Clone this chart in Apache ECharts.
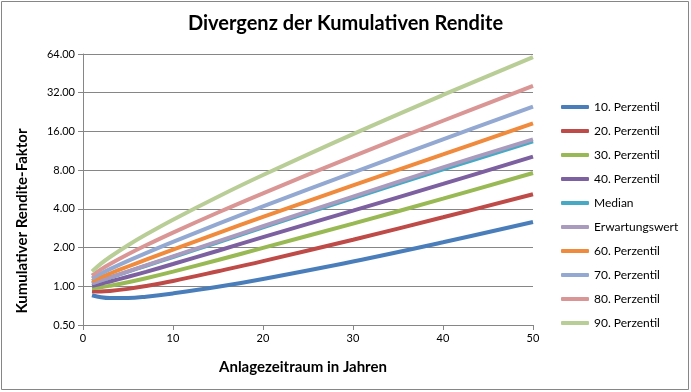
<!DOCTYPE html>
<html>
<head>
<meta charset="utf-8">
<script src="https://cdn.jsdelivr.net/npm/echarts@6/dist/echarts.min.js"></script>
<style>
html,body{margin:0;padding:0;background:#fff;}
#c{width:691px;height:392px;}
</style>
</head>
<body>
<div id="c"></div>
<script>
const years = [1, 2, 3, 5, 7, 10, 15, 20, 30, 40, 50];
const seriesNames = ['10. Perzentil','20. Perzentil','30. Perzentil','40. Perzentil','Median','Erwartungswert','60. Perzentil','70. Perzentil','80. Perzentil','90. Perzentil'];
const p10 = [0.851, 0.821, 0.809, 0.810, 0.830, 0.880, 0.990, 1.140, 1.560, 2.200, 3.16];
const p20 = [0.916, 0.911, 0.920, 0.955, 1.005, 1.100, 1.310, 1.570, 2.300, 3.440, 5.20];
const p30 = [0.966, 0.983, 1.010, 1.075, 1.155, 1.300, 1.600, 1.990, 3.070, 4.800, 7.60];
const p40 = [1.010, 1.047, 1.090, 1.185, 1.295, 1.490, 1.890, 2.410, 3.870, 6.250, 10.2];
const median = [1.053, 1.110, 1.170, 1.300, 1.445, 1.690, 2.200, 2.870, 4.850, 8.100, 13.4];
const erwartung = [1.054, 1.113, 1.175, 1.307, 1.455, 1.710, 2.235, 2.930, 4.980, 8.400, 13.9];
const p60 = [1.099, 1.178, 1.257, 1.425, 1.610, 1.930, 2.590, 3.460, 6.080, 10.60, 18.5];
const p70 = [1.149, 1.255, 1.359, 1.576, 1.812, 2.215, 3.056, 4.176, 7.666, 13.88, 24.92];
const p80 = [1.211, 1.352, 1.489, 1.773, 2.083, 2.616, 3.747, 5.285, 10.23, 19.37, 36.16];
const p90 = [1.303, 1.499, 1.690, 2.087, 2.527, 3.296, 4.972, 7.327, 15.26, 30.74, 60.6];
const xTicks = [0, 10, 20, 30, 40, 50];
const yTicks = [0.5, 1, 2, 4, 8, 16, 32, 64];
const colors = ['#4a7ebb','#be4b48','#98b954','#7d60a0','#46aac5','#a99bbd','#f08a3c','#93a9d2','#d99694','#b9cd96'];
const titleText = 'Divergenz der Kumulativen Rendite';
const xName = 'Anlagezeitraum in Jahren';
const yName = 'Kumulativer Rendite-Faktor';

const allData = [p10, p20, p30, p40, median, erwartung, p60, p70, p80, p90];

const chart = echarts.init(document.getElementById('c'), null, {renderer: 'canvas'});
const font = 'Lato, "Liberation Sans", sans-serif';
chart.setOption({
  animation: false,
  color: colors,
  textStyle: {fontFamily: font},
  title: {
    text: titleText,
    left: 'center', top: 9,
    textStyle: {fontFamily: font, fontSize: 20, fontWeight: 'bold', color: '#000'}
  },
  graphic: [
    {type: 'rect', shape: {x: 1.5, y: 1.5, width: 687, height: 388},
     style: {fill: 'none', stroke: '#868686', lineWidth: 1}, silent: true},
    {type: 'text', x: 22, y: 221, rotation: Math.PI / 2,
     style: {text: yName, fontFamily: font, fontSize: 15, fontWeight: 'bold', fill: '#000',
       textAlign: 'center', textVerticalAlign: 'middle'}},
    {type: 'text', x: 303, y: 367,
     style: {text: xName, fontFamily: font, fontSize: 15, fontWeight: 'bold', fill: '#000',
       textAlign: 'center', textVerticalAlign: 'middle'}}
  ],
  grid: {left: 83, right: 158, top: 54, bottom: 67},
  legend: {
    orient: 'vertical', left: 556, top: 96,
    icon: 'roundRect',
    itemWidth: 28, itemHeight: 4, itemGap: 12,
    textStyle: {fontFamily: font, fontSize: 12, color: '#000'},
    data: seriesNames
  },
  xAxis: {
    type: 'value', min: 0, max: 50, interval: 10,
    axisLine: {lineStyle: {color: '#868686'}},
    axisTick: {show: true, inside: false, length: 5, lineStyle: {color: '#868686'}},
    axisLabel: {fontFamily: font, fontSize: 11, color: '#000', margin: 8,
      formatter: v => xTicks.includes(v) ? String(v) : ''},
    splitLine: {show: false}
  },
  yAxis: {
    type: 'log', logBase: 2, min: yTicks[0], max: yTicks[yTicks.length - 1],
    axisLine: {show: true, lineStyle: {color: '#868686'}},
    axisTick: {show: true, inside: false, length: 5, lineStyle: {color: '#868686'}},
    axisLabel: {fontFamily: font, fontSize: 11, color: '#000', margin: 8,
      formatter: v => v.toFixed(2)},
    splitLine: {show: true, lineStyle: {color: '#868686', width: 1}},
    minorTick: {show: false}
  },
  series: seriesNames.map((n, i) => ({
    name: n, type: 'line', smooth: 0.4, symbol: 'none',
    lineStyle: {width: 4, color: colors[i]},
    itemStyle: {color: colors[i]},
    data: years.map((y, k) => [y, allData[i][k]])
  }))
});
</script>
</body>
</html>
